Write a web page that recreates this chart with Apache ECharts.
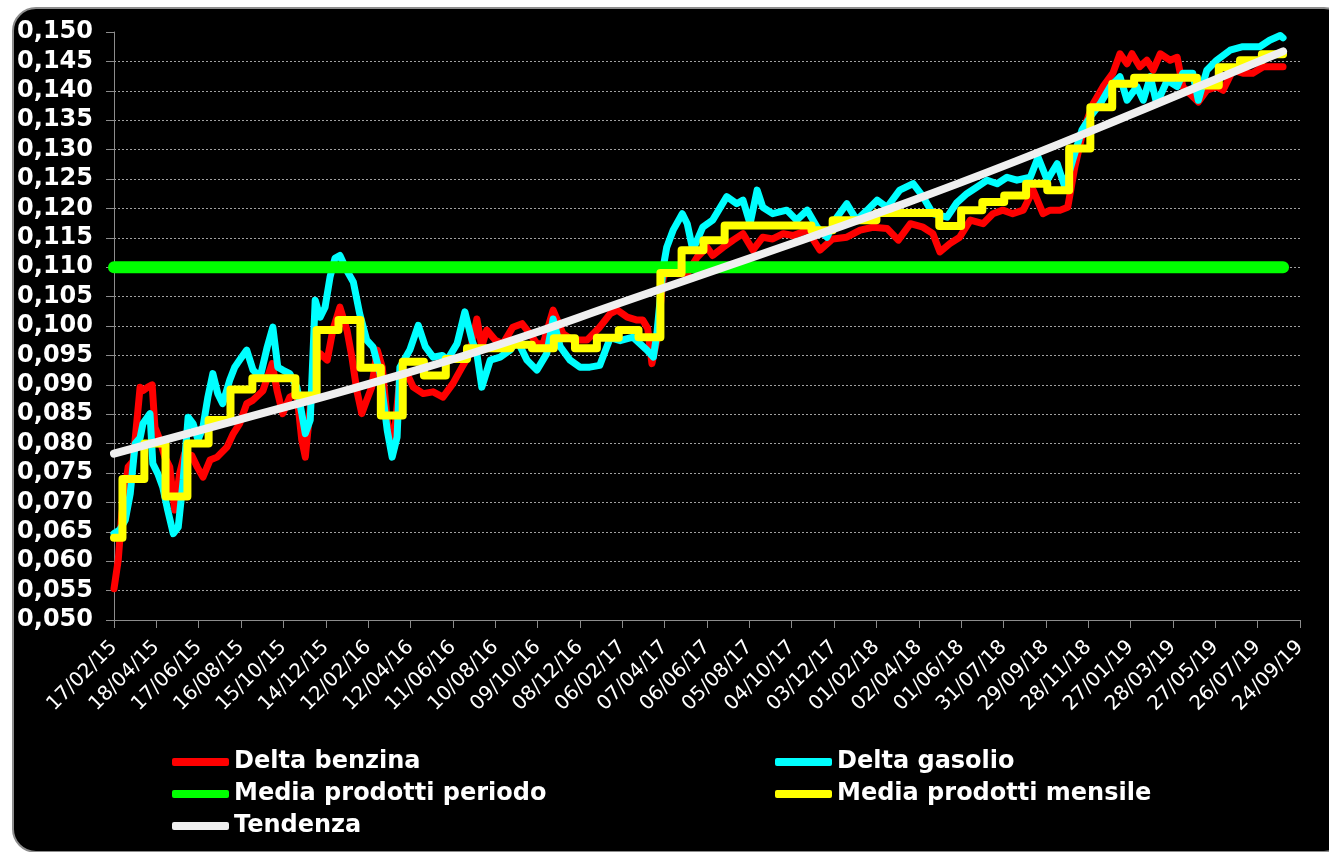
<!DOCTYPE html>
<html>
<head>
<meta charset="utf-8">
<title>Delta benzina / gasolio</title>
<script src="https://cdn.jsdelivr.net/npm/echarts@6/dist/echarts.min.js"></script>
<style>
    html, body { margin: 0; padding: 0; background: #fff; width: 1329px; height: 852px; overflow: hidden; }
    #frame {
        position: absolute; left: 12px; top: 7px; width: 1336px; height: 846px;
        background: #000; border: 2px solid #8c8c8c; border-radius: 24px; box-sizing: border-box;
    }
    #chart { position: absolute; left: 0; top: 0; width: 1329px; height: 852px; }
</style>
</head>
<body>
<div id="frame"></div>
<div id="chart"></div>
<script>
    // asse x: un tick ogni 60 giorni a partire dal 17/02/15
    const startDate = '2015-02-17';
    const xTickLabels = ['17/02/15', '18/04/15', '17/06/15', '16/08/15', '15/10/15', '14/12/15', '12/02/16',
        '12/04/16', '11/06/16', '10/08/16', '09/10/16', '08/12/16', '06/02/17', '07/04/17', '06/06/17',
        '05/08/17', '04/10/17', '03/12/17', '01/02/18', '02/04/18', '01/06/18', '31/07/18', '29/09/18',
        '28/11/18', '27/01/19', '28/03/19', '27/05/19', '26/07/19', '24/09/19'];
    const tickDays = 60;

    const deltaBenzina = [
        ['2015-02-17', 0.0553], ['2015-02-23', 0.0602], ['2015-02-28', 0.068], ['2015-03-09', 0.076], ['2015-03-16', 0.077],
        ['2015-03-26', 0.0896], ['2015-03-30', 0.089], ['2015-04-06', 0.0896], ['2015-04-12', 0.090], ['2015-04-16', 0.0828],
        ['2015-04-23', 0.0806], ['2015-04-30', 0.0777], ['2015-05-07', 0.076], ['2015-05-14', 0.0687], ['2015-05-21', 0.0749],
        ['2015-05-28', 0.0783], ['2015-06-07', 0.078], ['2015-06-15', 0.076], ['2015-06-23', 0.0743], ['2015-07-03', 0.0772],
        ['2015-07-13', 0.0777], ['2015-07-27', 0.0794], ['2015-08-05', 0.0817], ['2015-08-14', 0.0834], ['2015-08-24', 0.0868],
        ['2015-09-02', 0.0874], ['2015-09-16', 0.089], ['2015-09-29', 0.0936], ['2015-10-06', 0.089], ['2015-10-14', 0.0851],
        ['2015-10-24', 0.0879], ['2015-11-03', 0.0885], ['2015-11-10', 0.0806], ['2015-11-15', 0.0777], ['2015-11-22', 0.0863],
        ['2015-11-29', 0.0936], ['2015-12-06', 0.0953], ['2015-12-16', 0.0942], ['2015-12-24', 0.0993], ['2016-01-03', 0.1032],
        ['2016-01-13', 0.0993], ['2016-01-20', 0.0947], ['2016-01-27', 0.089], ['2016-02-03', 0.0851], ['2016-02-10', 0.0874],
        ['2016-02-17', 0.0896], ['2016-02-25', 0.0959], ['2016-03-03', 0.093], ['2016-03-10', 0.084], ['2016-03-18', 0.079],
        ['2016-03-28', 0.0913], ['2016-04-07', 0.0919], ['2016-04-16', 0.0896], ['2016-04-30', 0.0885], ['2016-05-14', 0.0888],
        ['2016-05-28', 0.0879], ['2016-06-11', 0.0902], ['2016-06-24', 0.093], ['2016-07-05', 0.0953], ['2016-07-15', 0.1012],
        ['2016-07-22', 0.0965], ['2016-07-29', 0.0993], ['2016-08-10', 0.0976], ['2016-08-21', 0.097], ['2016-09-04', 0.0998],
        ['2016-09-17', 0.1004], ['2016-09-28', 0.0987], ['2016-10-08', 0.097], ['2016-10-17', 0.097], ['2016-10-31', 0.1027],
        ['2016-11-14', 0.0987], ['2016-11-28', 0.0976], ['2016-12-18', 0.0976], ['2017-01-05', 0.0998], ['2017-01-20', 0.1021],
        ['2017-01-30', 0.1027], ['2017-02-13', 0.1015], ['2017-02-27', 0.101], ['2017-03-07', 0.101], ['2017-03-14', 0.0996],
        ['2017-03-20', 0.0936], ['2017-03-27', 0.0976], ['2017-04-05', 0.1083], ['2017-04-15', 0.11], ['2017-04-25', 0.1089],
        ['2017-05-09', 0.1089], ['2017-05-23', 0.1117], ['2017-06-06', 0.1134], ['2017-06-14', 0.112], ['2017-06-29', 0.1134],
        ['2017-07-13', 0.1146], ['2017-07-27', 0.1157], ['2017-08-10', 0.1129], ['2017-08-24', 0.1151], ['2017-09-07', 0.1148],
        ['2017-09-22', 0.1157], ['2017-10-06', 0.1154], ['2017-10-26', 0.1163], ['2017-11-13', 0.1129], ['2017-12-01', 0.1148],
        ['2017-12-21', 0.1151], ['2018-01-09', 0.1163], ['2018-01-27', 0.1168], ['2018-02-16', 0.1166], ['2018-03-04', 0.1146],
        ['2018-03-21', 0.1174], ['2018-04-08', 0.1168], ['2018-04-22', 0.1157], ['2018-05-02', 0.1126], ['2018-05-16', 0.114],
        ['2018-05-30', 0.1151], ['2018-06-14', 0.118], ['2018-07-02', 0.1174], ['2018-07-16', 0.1191], ['2018-07-30', 0.1197],
        ['2018-08-13', 0.1191], ['2018-08-28', 0.1197], ['2018-09-11', 0.1231], ['2018-09-25', 0.1191], ['2018-10-05', 0.1197],
        ['2018-10-19', 0.1197], ['2018-10-30', 0.1202], ['2018-11-09', 0.127], ['2018-11-21', 0.1333], ['2018-12-05', 0.1378],
        ['2018-12-19', 0.1407], ['2019-01-02', 0.143], ['2019-01-12', 0.1463], ['2019-01-22', 0.1446], ['2019-01-29', 0.1463],
        ['2019-02-09', 0.1441], ['2019-02-19', 0.1452], ['2019-02-28', 0.1435], ['2019-03-10', 0.1463], ['2019-03-24', 0.1452],
        ['2019-04-03', 0.1457], ['2019-04-11', 0.1407], ['2019-04-21', 0.1395], ['2019-05-03', 0.1381], ['2019-05-15', 0.1401],
        ['2019-05-29', 0.1407], ['2019-06-07', 0.1401], ['2019-06-21', 0.1435], ['2019-07-05', 0.143], ['2019-07-19', 0.143],
        ['2019-08-03', 0.1441], ['2019-08-12', 0.1441], ['2019-08-31', 0.1441]
    ];

    const deltaGasolio = [
        ['2015-02-17', 0.0647], ['2015-02-25', 0.0653], ['2015-03-05', 0.067], ['2015-03-12', 0.0715], ['2015-03-19', 0.080],
        ['2015-03-26', 0.081], ['2015-03-30', 0.0834], ['2015-04-09', 0.0851], ['2015-04-13', 0.0766], ['2015-04-20', 0.0749],
        ['2015-04-27', 0.0726], ['2015-05-04', 0.0687], ['2015-05-12', 0.0647], ['2015-05-19', 0.0658], ['2015-05-26', 0.0738],
        ['2015-06-02', 0.0845], ['2015-06-09', 0.0834], ['2015-06-16', 0.0806], ['2015-06-23', 0.0828], ['2015-06-30', 0.0879],
        ['2015-07-07', 0.0919], ['2015-07-14', 0.0885], ['2015-07-21', 0.0868], ['2015-07-31', 0.0908], ['2015-08-07', 0.093],
        ['2015-08-14', 0.0942], ['2015-08-24', 0.0959], ['2015-09-02', 0.0925], ['2015-09-12', 0.0913], ['2015-09-22', 0.0964],
        ['2015-09-30', 0.0998], ['2015-10-07', 0.093], ['2015-10-14', 0.0925], ['2015-10-24', 0.0919], ['2015-11-03', 0.0896],
        ['2015-11-10', 0.0851], ['2015-11-15', 0.0817], ['2015-11-22', 0.084], ['2015-11-29', 0.1044], ['2015-12-06', 0.1015],
        ['2015-12-13', 0.1032], ['2015-12-20', 0.1083], ['2015-12-27', 0.1115], ['2016-01-03', 0.112], ['2016-01-13', 0.1094],
        ['2016-01-22', 0.1075], ['2016-01-31', 0.1021], ['2016-02-10', 0.0976], ['2016-02-19', 0.0964], ['2016-02-29', 0.0919],
        ['2016-03-10', 0.0823], ['2016-03-17', 0.0777], ['2016-03-24', 0.0811], ['2016-03-28', 0.093], ['2016-04-11', 0.0959],
        ['2016-04-23', 0.1001], ['2016-05-03', 0.0965], ['2016-05-14', 0.0947], ['2016-05-27', 0.095], ['2016-06-03', 0.0942],
        ['2016-06-17', 0.097], ['2016-06-28', 0.1024], ['2016-07-08', 0.0976], ['2016-07-15', 0.0953], ['2016-07-22', 0.0896],
        ['2016-08-03', 0.0942], ['2016-08-17', 0.0947], ['2016-08-31', 0.0959], ['2016-09-10', 0.0976], ['2016-09-24', 0.0942],
        ['2016-10-08', 0.0925], ['2016-10-22', 0.0953], ['2016-10-31', 0.1012], ['2016-11-10', 0.0965], ['2016-11-24', 0.0942],
        ['2016-12-08', 0.093], ['2016-12-22', 0.093], ['2017-01-05', 0.0933], ['2017-01-20', 0.098], ['2017-02-03', 0.0975],
        ['2017-02-21', 0.0981], ['2017-03-13', 0.0959], ['2017-03-22', 0.0947], ['2017-03-27', 0.0987], ['2017-04-05', 0.11],
        ['2017-04-10', 0.1134], ['2017-04-19', 0.1163], ['2017-05-02', 0.1191], ['2017-05-09', 0.1174], ['2017-05-17', 0.1129],
        ['2017-05-31', 0.1168], ['2017-06-14', 0.118], ['2017-07-04', 0.122], ['2017-07-18', 0.1208], ['2017-07-27', 0.1214],
        ['2017-08-06', 0.1174], ['2017-08-16', 0.1231], ['2017-08-24', 0.1202], ['2017-09-07', 0.1191], ['2017-09-27', 0.1197],
        ['2017-10-11', 0.118], ['2017-10-26', 0.1197], ['2017-11-09', 0.1168], ['2017-11-23', 0.1151], ['2017-12-07', 0.1185],
        ['2017-12-21', 0.1208], ['2018-01-04', 0.118], ['2018-01-19', 0.1197], ['2018-02-02', 0.1214], ['2018-02-16', 0.1202],
        ['2018-03-06', 0.1231], ['2018-03-25', 0.1242], ['2018-04-08', 0.122], ['2018-04-22', 0.1191], ['2018-05-12', 0.1185],
        ['2018-05-26', 0.121], ['2018-06-09', 0.1225], ['2018-06-23', 0.1236], ['2018-07-08', 0.1248], ['2018-07-22', 0.1242],
        ['2018-08-05', 0.1253], ['2018-08-19', 0.1248], ['2018-09-07', 0.1253], ['2018-09-18', 0.1287], ['2018-10-01', 0.1248],
        ['2018-10-15', 0.1276], ['2018-10-26', 0.1236], ['2018-11-06', 0.1282], ['2018-11-19', 0.1333], ['2018-12-01', 0.1356],
        ['2018-12-15', 0.1378], ['2018-12-29', 0.1407], ['2019-01-12', 0.1424], ['2019-01-22', 0.1384], ['2019-02-05', 0.1407],
        ['2019-02-14', 0.1384], ['2019-02-24', 0.1424], ['2019-03-05', 0.1378], ['2019-03-20', 0.1418], ['2019-04-03', 0.1407],
        ['2019-04-11', 0.143], ['2019-04-25', 0.143], ['2019-05-03', 0.1384], ['2019-05-15', 0.1435], ['2019-05-29', 0.1452],
        ['2019-06-17', 0.1469], ['2019-07-05', 0.1475], ['2019-07-29', 0.1475], ['2019-08-12', 0.1486], ['2019-08-27', 0.1494],
        ['2019-08-31', 0.149]
    ];

    // media di tutto il periodo
    const mediaPeriodo = [['2015-02-17', 0.110], ['2019-08-31', 0.110]];

    // media mensile (valore valido dal primo giorno del mese)
    const mediaMensile = [
        ['2015-02-17', 0.064], ['2015-03-01', 0.074], ['2015-04-01', 0.080], ['2015-05-01', 0.071], ['2015-06-01', 0.080],
        ['2015-07-01', 0.084], ['2015-08-01', 0.0892], ['2015-09-01', 0.0911], ['2015-10-01', 0.0911], ['2015-11-01', 0.0882],
        ['2015-12-01', 0.0993], ['2016-01-01', 0.101], ['2016-02-01', 0.0929], ['2016-03-01', 0.0848], ['2016-04-01', 0.0939],
        ['2016-05-01', 0.0916], ['2016-06-01', 0.0944], ['2016-07-01', 0.0962], ['2016-08-01', 0.0962], ['2016-09-01', 0.0968],
        ['2016-10-01', 0.0962], ['2016-11-01', 0.0979], ['2016-12-01', 0.0962], ['2017-01-01', 0.098], ['2017-02-01', 0.0993],
        ['2017-03-01', 0.0981], ['2017-04-01', 0.109], ['2017-05-01', 0.1129], ['2017-06-01', 0.1146], ['2017-07-01', 0.1171],
        ['2017-08-01', 0.1171], ['2017-09-01', 0.1171], ['2017-10-01', 0.1171], ['2017-11-01', 0.1163], ['2017-12-01', 0.118],
        ['2018-01-01', 0.118], ['2018-02-01', 0.1192], ['2018-03-01', 0.1192], ['2018-04-01', 0.1192], ['2018-05-01', 0.117],
        ['2018-06-01', 0.1197], ['2018-07-01', 0.1211], ['2018-08-01', 0.1222], ['2018-09-01', 0.1242], ['2018-10-01', 0.1231],
        ['2018-11-01', 0.1302], ['2018-12-01', 0.1372], ['2019-01-01', 0.1412], ['2019-02-01', 0.1422], ['2019-03-01', 0.1422],
        ['2019-04-01', 0.1422], ['2019-05-01', 0.1409], ['2019-06-01', 0.1440], ['2019-07-01', 0.1452], ['2019-08-01', 0.1462],
        ['2019-08-31', 0.1462]
    ];

    // linea di tendenza (leggermente curva)
    const tendenza = [
        ['2015-02-17', 0.0783], ['2015-08-17', 0.0842], ['2016-02-17', 0.0903], ['2016-08-17', 0.0969], ['2017-02-17', 0.1045],
        ['2017-08-17', 0.1120], ['2018-02-17', 0.1198], ['2018-08-17', 0.1280], ['2019-02-17', 0.1370], ['2019-08-31', 0.1467]
    ];

    function dayOf(d) {
        return (Date.parse(d) - Date.parse(startDate)) / 86400000;
    }
    function toXY(list) {
        return list.map(function (p) { return [dayOf(p[0]), p[1]]; });
    }
    function lineSeries(name, data, color, width, extra) {
        return Object.assign({
            name: name,
            type: 'line',
            data: toXY(data),
            showSymbol: false,
            symbol: 'none',
            color: color,
            lineStyle: { color: color, width: width, cap: 'round', join: 'round' }
        }, extra || {});
    }

    const font = 'DejaVu Sans';
    const legendText = { color: '#fff', fontFamily: font, fontWeight: 'bold', fontSize: 24, lineHeight: 24 };
    const chart = echarts.init(document.getElementById('chart'));
    chart.setOption({
        animation: false,
        backgroundColor: 'transparent',
        grid: { left: 114, right: 29, top: 32, bottom: 232 },
        legend: [
            {
                orient: 'vertical', left: 167, top: 745, itemGap: 8,
                itemWidth: 57, itemHeight: 8, icon: 'roundRect',
                textStyle: legendText,
                data: ['Delta benzina', 'Media prodotti periodo', 'Tendenza']
            },
            {
                orient: 'vertical', left: 770, top: 745, itemGap: 8,
                itemWidth: 57, itemHeight: 8, icon: 'roundRect',
                textStyle: legendText,
                data: ['Delta gasolio', 'Media prodotti mensile']
            }
        ],
        xAxis: {
            type: 'value',
            min: 0,
            max: tickDays * (xTickLabels.length - 1),
            interval: tickDays,
            axisLine: { lineStyle: { color: '#8c8c8c', width: 1 } },
            axisTick: { show: true, length: 8, lineStyle: { color: '#8c8c8c' } },
            splitLine: { show: false },
            axisLabel: {
                rotate: 45, margin: 24, color: '#fff', fontFamily: font, fontSize: 20,
                showMinLabel: true, showMaxLabel: true,
                formatter: function (v) { return xTickLabels[Math.round(v / tickDays)] || ''; }
            }
        },
        yAxis: {
            type: 'value',
            min: 0.05,
            max: 0.15,
            interval: 0.005,
            axisLine: { show: true, lineStyle: { color: '#8c8c8c', width: 1 } },
            axisTick: { show: true, length: 8, lineStyle: { color: '#8c8c8c' } },
            splitLine: { show: true, showMaxLine: false, lineStyle: { color: '#a0a0a0', type: [2, 2], width: 1 } },
            axisLabel: {
                margin: 21, color: '#fff', fontFamily: font, fontWeight: 'bold', fontSize: 24,
                formatter: function (v) { return v.toFixed(3).replace('.', ','); }
            }
        },
        series: [
            lineSeries('Delta benzina', deltaBenzina, '#ff0000', 7),
            lineSeries('Delta gasolio', deltaGasolio, '#00ffff', 7),
            lineSeries('Media prodotti periodo', mediaPeriodo, '#00ff00', 12),
            lineSeries('Media prodotti mensile', mediaMensile, '#ffff00', 8, { step: 'end' }),
            lineSeries('Tendenza', tendenza, '#efefef', 8, { smooth: true })
        ]
    });
</script>
</body>
</html>
